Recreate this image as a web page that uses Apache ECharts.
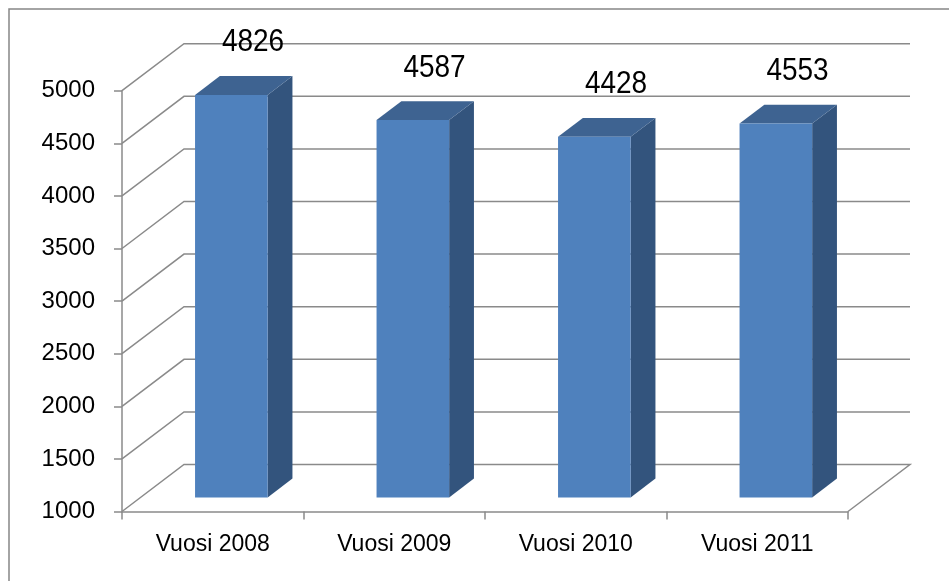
<!DOCTYPE html>
<html>
<head>
<meta charset="utf-8">
<script src="https://cdn.jsdelivr.net/npm/echarts@6/dist/echarts.min.js"></script>
<style>
  html, body { margin: 0; padding: 0; background: #fff; }
  #chart { width: 949px; height: 581px; }
</style>
</head>
<body>
<div id="chart"></div>
<script>
const categories = ['Vuosi 2008', 'Vuosi 2009', 'Vuosi 2010', 'Vuosi 2011'];
const values = [4826, 4587, 4428, 4553];
const yTicks = [1000, 1500, 2000, 2500, 3000, 3500, 4000, 4500, 5000];

// 3D depth offset of the back wall (px)
const DX = 62, DY = -47;
const FRONT = 0.3, BACK = 0.7, BAR_W = 0.4;
const gridColor = '#8a8a8a';

const chart = echarts.init(document.getElementById('chart'));

function renderWall(params, api) {
    const cs = params.coordSys;
    const y = api.coord([0, api.value(1)])[1];
    const left = cs.x, right = cs.x + cs.width;
    const pts = [[left, y], [left + DX, y + DY], [right + DX, y + DY]];
    if (params.dataIndex === 0) {
        pts.push([right, y]);
    }
    return {
        type: 'polyline',
        shape: { points: pts },
        style: { stroke: gridColor, lineWidth: 1.5, fill: null }
    };
}

function renderBar(params, api) {
    const c = api.coord([api.value(0), api.value(1)]);
    const base = api.coord([api.value(0), 1000])[1];
    const bw = api.size([1, 0])[0] * BAR_W;
    const x0 = c[0] - bw / 2, x1 = c[0] + bw / 2;
    const top = c[1];
    const fx = FRONT * DX, fy = FRONT * DY, bx = BACK * DX, by = BACK * DY;
    return {
        type: 'group',
        children: [
            {
                type: 'polygon',
                shape: { points: [[x1 + fx, top + fy], [x1 + bx, top + by], [x1 + bx, base + by], [x1 + fx, base + fy]] },
                style: { fill: '#33547d' }
            },
            {
                type: 'polygon',
                shape: { points: [[x0 + fx, top + fy], [x1 + fx, top + fy], [x1 + bx, top + by], [x0 + bx, top + by]] },
                style: { fill: '#3e6391' }
            },
            {
                type: 'rect',
                shape: { x: x0 + fx, y: top + fy, width: bw, height: base - top },
                style: { fill: '#4f81bd' }
            },
            {
                type: 'text',
                x: c[0] + 0.65 * DX,
                y: top + fy - 52,
                scaleY: 1.1,
                style: {
                    text: String(api.value(1)),
                    fill: '#000',
                    font: '28px "Liberation Sans", Arial, sans-serif',
                    align: 'center',
                    verticalAlign: 'middle'
                }
            }
        ]
    };
}

const option = {
    backgroundColor: '#fff',
    animation: false,
    grid: { left: 122, right: 101, top: 90.7, bottom: 69.5 },
    graphic: [{
        type: 'rect',
        left: 6.5, top: 6.5,
        shape: { width: 1000, height: 1000 },
        style: { fill: null, stroke: '#868686', lineWidth: 1.5 },
        z: -1
    }],
    xAxis: {
        type: 'category',
        data: categories,
        boundaryGap: true,
        axisLine: { lineStyle: { color: gridColor, width: 1.5 } },
        axisTick: { show: true, length: 8, alignWithLabel: false, lineStyle: { color: gridColor, width: 1.5 } },
        axisLabel: { color: '#000', fontSize: 23, fontFamily: 'Liberation Sans', margin: 22 },
        splitLine: { show: false }
    },
    yAxis: {
        type: 'value',
        min: 1000,
        max: 5000,
        interval: 500,
        axisLine: { show: true, lineStyle: { color: gridColor, width: 1.5 } },
        axisTick: { show: true, length: 8, lineStyle: { color: gridColor, width: 1.5 } },
        axisLabel: { color: '#000', fontSize: 24, fontFamily: 'Liberation Sans', margin: 27, formatter: v => String(v) },
        splitLine: { show: false }
    },
    series: [
        {
            type: 'custom',
            renderItem: renderWall,
            data: yTicks.map(v => [0, v]),
            z: 1,
            silent: true
        },
        {
            type: 'custom',
            renderItem: renderBar,
            data: values.map((v, i) => [i, v]),
            z: 3
        }
    ]
};
chart.setOption(option);
</script>
</body>
</html>
